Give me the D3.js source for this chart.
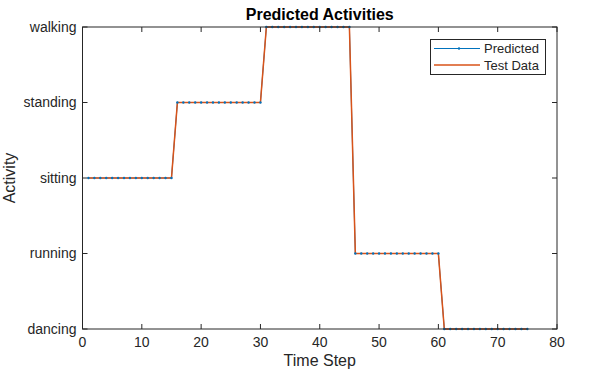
<!DOCTYPE html>
<html><head><meta charset="utf-8">
<script src="https://cdn.jsdelivr.net/npm/d3@7"></script>
<style>body{margin:0;background:#fff}svg{display:block}text{font-family:"Liberation Sans",Arial,sans-serif;fill:#262626}</style>
</head><body>
<script>
const categories = ["dancing","running","sitting","standing","walking"];
const steps = d3.range(1, 76);
const predicted = [
 ...Array(15).fill("sitting"),
 ...Array(15).fill("standing"),
 ...Array(15).fill("walking"),
 ...Array(15).fill("running"),
 ...Array(15).fill("dancing")];
const testData = [
 ...Array(15).fill("sitting"),
 ...Array(15).fill("standing"),
 ...Array(15).fill("walking"),
 ...Array(15).fill("running"),
 ...Array(15).fill("dancing")];
const xTicks = [0,10,20,30,40,50,60,70,80];

const W=616,H=371, L=82.5, R=557, T=27, B=329;
const svg=d3.select("body").append("svg").attr("width",W).attr("height",H);
const x=d3.scaleLinear().domain([0,80]).range([L,R]);
const y=d3.scalePoint().domain(categories).range([B,T]);
const ax="#262626";

// lines
const line=d3.line().x((d,i)=>x(steps[i])).y(d=>y(d));
svg.append("path").attr("d",line(predicted)).attr("fill","none").attr("stroke","#0072BD").attr("stroke-width",1);
svg.append("path").attr("d",line(testData)).attr("fill","none").attr("stroke","#D95319").attr("stroke-width",1.5);
svg.append("g").selectAll("circle").data(predicted).join("circle")
 .attr("cx",(d,i)=>x(steps[i])).attr("cy",d=>y(d)).attr("r",1.2).attr("fill","#0072BD");

// axes box
svg.append("rect").attr("x",L).attr("y",T).attr("width",R-L).attr("height",B-T).attr("fill","none").attr("stroke",ax).attr("stroke-width",1);
const tl=5;
const g=svg.append("g");
xTicks.forEach(t=>{
  g.append("line").attr("x1",x(t)).attr("x2",x(t)).attr("y1",B).attr("y2",B-tl).attr("stroke",ax);
  g.append("line").attr("x1",x(t)).attr("x2",x(t)).attr("y1",T).attr("y2",T+tl).attr("stroke",ax);
  g.append("text").attr("x",x(t)).attr("y",B+18).attr("text-anchor","middle").attr("font-size",14).text(t);
});
categories.forEach(c=>{
  g.append("line").attr("x1",L).attr("x2",L+tl).attr("y1",y(c)).attr("y2",y(c)).attr("stroke",ax);
  g.append("line").attr("x1",R).attr("x2",R-tl).attr("y1",y(c)).attr("y2",y(c)).attr("stroke",ax);
  g.append("text").attr("x",L-6).attr("y",y(c)).attr("dy","0.35em").attr("text-anchor","end").attr("font-size",14).text(c);
});
svg.append("text").attr("x",(L+R)/2).attr("y",20).attr("text-anchor","middle").attr("font-size",16).attr("font-weight","bold").style("fill","#000").text("Predicted Activities");
svg.append("text").attr("x",(L+R)/2).attr("y",366).attr("text-anchor","middle").attr("font-size",16).text("Time Step");
svg.append("text").attr("transform",`translate(15,${(T+B)/2}) rotate(-90)`).attr("text-anchor","middle").attr("font-size",16).text("Activity");

// legend
const lg=svg.append("g");
lg.append("rect").attr("x",430.5).attr("y",39.5).attr("width",115).attr("height",35).attr("fill","#fff").attr("stroke",ax);
lg.append("line").attr("x1",434).attr("x2",480).attr("y1",48.5).attr("y2",48.5).attr("stroke","#0072BD");
lg.append("circle").attr("cx",459).attr("cy",48.5).attr("r",1.2).attr("fill","#0072BD");
lg.append("text").attr("x",484).attr("y",48.5).attr("dy","0.35em").attr("font-size",13).text("Predicted");
lg.append("line").attr("x1",434).attr("x2",480).attr("y1",65).attr("y2",65).attr("stroke","#D95319").attr("stroke-width",1.5);
lg.append("text").attr("x",484).attr("y",65).attr("dy","0.35em").attr("font-size",13).text("Test Data");
</script>
</body></html>
